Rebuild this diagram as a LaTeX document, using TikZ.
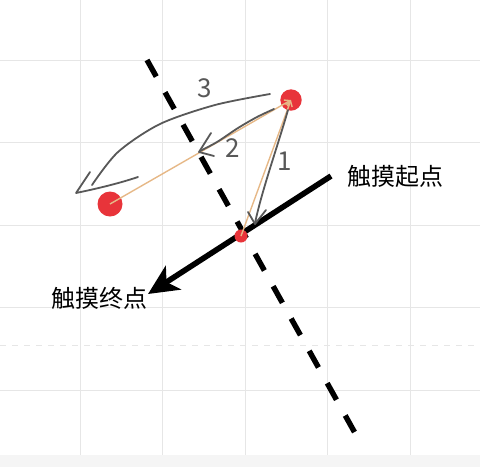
\documentclass[tikz,border=0pt]{standalone}
\usepackage{fontspec}
\newfontfamily\cjk{Noto Sans CJK SC}
\usetikzlibrary{arrows.meta,positioning}
\definecolor{dotred}{HTML}{E8343A}
\definecolor{pathtan}{HTML}{E6B887}
\definecolor{penline}{HTML}{585858}
\definecolor{gridgray}{HTML}{E6E6E6}
\begin{document}
\begin{tikzpicture}[x=0.5pt,y=-0.5pt,
    touchdot/.style={circle,fill=dotred,inner sep=0pt},
    penstroke/.style={penline,line width=0.9pt,line cap=round,line join=round},
    tracepath/.style={pathtan,line width=0.7pt,-{Straight Barb[length=2.5pt,width=3.5pt]}},
    tag/.style={font=\cjk\fontsize{12}{14}\selectfont,inner sep=0pt},
    digit/.style={font=\cjk\fontsize{13}{15}\selectfont,text=penline,inner sep=0pt}]
    \useasboundingbox (0,0) rectangle (480,467);
    \fill[gray!8] (0,455) rectangle (480,467);
    \foreach \g in {80,162.5,...,410}
        \draw[gridgray,line width=0.5pt] (\g,0) -- (\g,455);
    \foreach \g in {60,142.5,...,390}
        \draw[gridgray,line width=0.5pt] (0,\g) -- (480,\g);
    \draw[gridgray,line width=0.5pt,dashed] (0,345) -- (480,345);
    \coordinate (axtop) at (147,60);
    \coordinate (axbot) at (355,433);
    \draw[line width=2.7pt,dash pattern=on 9.5pt off 9pt] (axtop) -- (axbot);
    \coordinate (touchstart) at (331,176);
    \coordinate (touchend) at (148,294);
    \draw[line width=2.8pt,-{Stealth[length=15pt,width=14pt,inset=4pt]}] (touchstart) -- (touchend);
    \node[tag,right=8pt of touchstart] (startlbl) {触摸起点};
    \node[tag,left=0pt of touchend,yshift=-2pt] (endlbl) {触摸终点};
    \node[touchdot,minimum size=10.7pt] (first) at (291,100) {};
    \node[touchdot,minimum size=12.5pt] (second) at (110,204) {};
    \node[touchdot,minimum size=6.5pt] (contact) at (241,236) {};
    \draw[tracepath] (second.center) -- (first.center);
    \draw[tracepath] (contact.center) -- (first.center);
    \draw[penstroke] (288,110) .. controls (278,145) and (262,190) .. (255,223);
    \draw[penstroke] (248,212) -- (255,224) -- (266,210);
    \draw[penstroke] plot[smooth] coordinates {(274,109) (257,117) (238,128) (217,142) (200,151)};
    \draw[penstroke] (211,133) -- (199,152) -- (214,156);
    \draw[penstroke] plot[smooth] coordinates {(270,94) (215,105) (160,124) (118,152) (92,185)};
    \draw[penstroke] (90,172) -- (76,193) .. controls (100,188) and (120,183) .. (138,177);
    \node[digit] (stepone) at (285,161) {1};
    \node[digit] (steptwo) at (233,148) {2};
    \node[digit] (stepthree) at (205,88) {3};
\end{tikzpicture}
\end{document}
